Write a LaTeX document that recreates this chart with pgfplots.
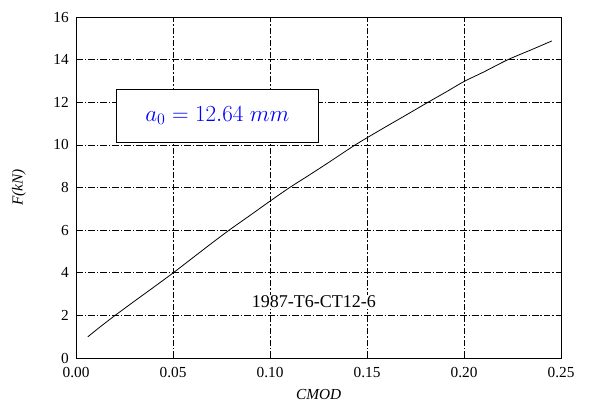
\documentclass[border=0pt]{standalone}
\usepackage{fontspec}
\setmainfont{Liberation Serif}
\usepackage{pgfplots}
\pgfplotsset{compat=1.18}
\begin{document}
\begin{tikzpicture}
\begin{axis}[
  scale only axis,
  width=364pt, height=256pt,
  xmin=0, xmax=0.25, ymin=0, ymax=16,
  xtick={0,0.05,0.10,0.15,0.20,0.25}, ytick={0,2,4,6,8,10,12,14,16},
  xticklabels={0.00,0.05,0.10,0.15,0.20,0.25},
  yticklabels={0,2,4,6,8,10,12,14,16},
  xticklabel style={yshift=-3pt},
  yticklabel style={xshift=-2pt},
  tick label style={font=\fontsize{11.5}{13}\selectfont},
  major tick length=0pt,
  grid=major,
  major grid style={black, line width=0.6pt, dash pattern=on 5pt off 1.5pt on 1pt off 1.5pt},
  axis line style={black, line width=0.8pt},
  xlabel={\itshape CMOD},
  ylabel={\itshape F(kN)},
  label style={font=\fontsize{11.5}{13}\selectfont},
  xlabel style={at={(rel axis cs:0.5,-0.108)}, anchor=center},
  ylabel style={at={(rel axis cs:-0.118,0.5)}, anchor=center},
  clip=false,
]
\addplot[black, line width=0.6pt, smooth, tension=0.4] coordinates {
(0.006,1.0)(0.0124,1.47)(0.020,2.0)(0.030,2.67)(0.040,3.33)(0.050,4.0)(0.060,4.7)(0.070,5.4)(0.0794,6.04)(0.090,6.72)(0.100,7.37)(0.110,8.0)(0.120,8.58)(0.130,9.17)(0.1438,10.0)(0.1567,10.70)(0.170,11.40)(0.1813,12.0)(0.190,12.45)(0.200,12.98)(0.210,13.42)(0.2225,14.0)(0.235,14.48)(0.2452,14.88)
};
\fill[white, draw=black, line width=0.6pt] (axis cs:0.0206,10.14) rectangle (axis cs:0.125,12.63);
\node[blue, font=\fontsize{17}{19}\selectfont] at (axis cs:0.0728,11.38) {$a_0 = 12.64\;mm$};
\node[font=\fontsize{13.5}{15}\selectfont, fill=white, inner sep=0.5pt] at (axis cs:0.1225,2.63) {1987-T6-CT12-6};
\path (rel axis cs:-0.157,-0.155) rectangle (rel axis cs:1.076,1.05);
\end{axis}
\end{tikzpicture}
\end{document}
